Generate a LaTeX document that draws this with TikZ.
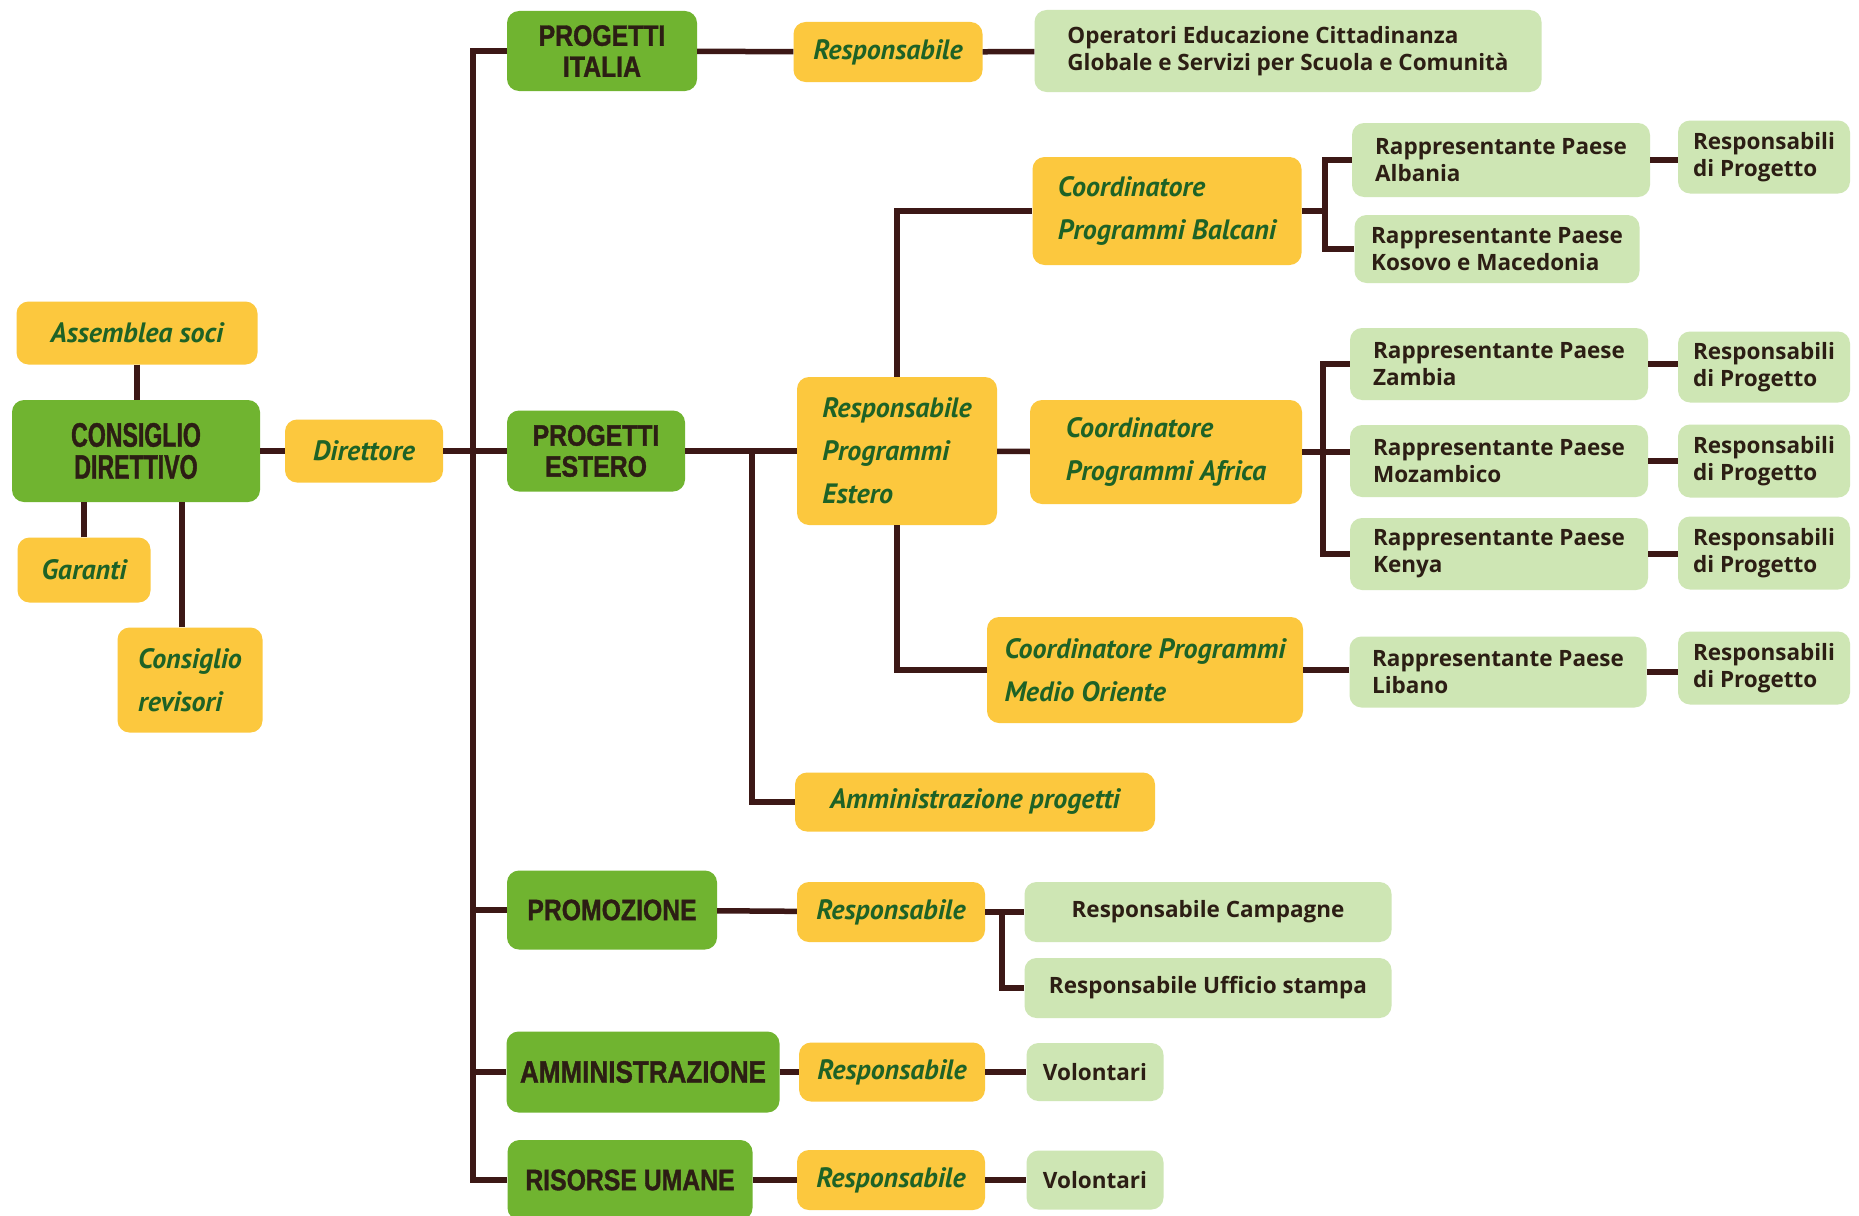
\documentclass[tikz,border=0pt]{standalone}
\usepackage{fontspec}
\newfontfamily\headfont[FakeStretch=0.84,FakeBold=1.2]{Liberation Sans}
\newfontfamily\cdfont[FakeStretch=0.68,FakeBold=1.2]{Liberation Sans}
\newfontfamily\handfont{PT Sans}
\newfontfamily\plainfont{Open Sans}
\definecolor{grass}{RGB}{112,180,48}
\definecolor{sun}{RGB}{252,200,62}
\definecolor{mint}{RGB}{206,230,180}
\definecolor{wire}{RGB}{60,24,22}
\definecolor{ink}{RGB}{44,30,20}
\definecolor{leaf}{RGB}{30,98,38}
\tikzset{
  head/.style={fill=grass, rounded corners=12pt, align=center, text=ink,
    font=\headfont\bfseries\fontsize{29.5}{31}\selectfont},
  role/.style={fill=sun, rounded corners=12pt, align=left, text=leaf,
    font=\handfont\bfseries\itshape\fontsize{28}{43}\selectfont},
  unit/.style={fill=mint, rounded corners=12pt, align=left, text=ink,
    font=\plainfont\bfseries\fontsize{22.5}{27}\selectfont},
  link/.style={draw=wire, line width=5.5pt},
}
\begin{document}
\begin{tikzpicture}[x=1pt,y=-1pt]
  % canvas
  \fill[white] (0,0) rectangle (1859,1215);
  \useasboundingbox (0,0) rectangle (1859,1215);
  % governing bodies
  \node[role, align=center, minimum width=241pt, minimum height=63pt] (ass) at (137,333) {Assemblea soci};
  \node[head, font=\cdfont\bfseries\fontsize{34}{32}\selectfont,
        minimum width=248pt, minimum height=102pt] (cd) at (136,451) {CONSIGLIO\\DIRETTIVO};
  \node[role, align=center, minimum width=158pt, minimum height=63pt] (dir) at (364,451) {Direttore};
  \node[role, align=center, minimum width=133pt, minimum height=65pt] (gar) at (84,570) {Garanti};
  \node[role, minimum width=145pt, minimum height=105pt] (rev) at (190,680) {Consiglio\\revisori};
  % areas
  \node[head, minimum width=190pt, minimum height=80pt] (ita) at (602,51) {PROGETTI\\ITALIA};
  \node[head, minimum width=178pt, minimum height=81pt] (est) at (596,451) {PROGETTI\\ESTERO};
  \node[head, minimum width=210pt, minimum height=79pt] (pro) at (612,910) {PROMOZIONE};
  \node[head, font=\headfont\bfseries\fontsize{31}{31}\selectfont,
        minimum width=273pt, minimum height=81pt] (amm) at (643,1072) {AMMINISTRAZIONE};
  \node[head, minimum width=245pt, minimum height=80pt] (ru) at (630,1180) {RISORSE UMANE};
  % progetti italia
  \node[role, align=center, minimum width=189pt, minimum height=60pt] (rita) at (888,52) {Responsabile};
  \node[unit, minimum width=507pt, minimum height=82pt] (oper) at (1288,51)
    {Operatori Educazione Cittadinanza\\Globale e Servizi per Scuola e Comunità};
  % progetti estero
  \node[role, minimum width=200pt, minimum height=148pt] (rpe) at (897,451) {Responsabile\\Programmi\\Estero};
  \node[role, minimum width=269pt, minimum height=108pt] (balc) at (1167,211) {Coordinatore\\Programmi Balcani};
  \node[role, minimum width=272pt, minimum height=104pt] (afr) at (1166,452) {Coordinatore\\Programmi Africa};
  \node[role, minimum width=316pt, minimum height=106pt] (mo) at (1145,670) {Coordinatore Programmi\\Medio Oriente};
  \node[role, minimum width=360pt, minimum height=59pt] (ammp) at (975,802) {Amministrazione progetti};
  % country offices
  \node[unit, minimum width=298pt, minimum height=74pt] (alb) at (1501,160) {Rappresentante Paese\\Albania};
  \node[unit, minimum width=285pt, minimum height=68pt] (kos) at (1497,249) {Rappresentante Paese\\Kosovo e Macedonia};
  \node[unit, minimum width=298pt, minimum height=72pt] (zam) at (1499,364) {Rappresentante Paese\\Zambia};
  \node[unit, minimum width=298pt, minimum height=72pt] (moz) at (1499,461) {Rappresentante Paese\\Mozambico};
  \node[unit, minimum width=298pt, minimum height=72pt] (ken) at (1499,554) {Rappresentante Paese\\Kenya};
  \node[unit, minimum width=297pt, minimum height=71pt] (lib) at (1498,672) {Rappresentante Paese\\Libano};
  \node[unit, minimum width=172pt, minimum height=73pt] (rpalb) at (1764,157) {Responsabili\\di Progetto};
  \node[unit, minimum width=172pt, minimum height=71pt] (rpzam) at (1764,367) {Responsabili\\di Progetto};
  \node[unit, minimum width=172pt, minimum height=73pt] (rpmoz) at (1764,461) {Responsabili\\di Progetto};
  \node[unit, minimum width=172pt, minimum height=73pt] (rpken) at (1764,553) {Responsabili\\di Progetto};
  \node[unit, minimum width=172pt, minimum height=73pt] (rplib) at (1764,668) {Responsabili\\di Progetto};
  % promozione, amministrazione, risorse umane
  \node[role, align=center, minimum width=188pt, minimum height=60pt] (rpro) at (891,912) {Responsabile};
  \node[unit, minimum width=367pt, minimum height=60pt] (camp) at (1208,912) {Responsabile Campagne};
  \node[unit, minimum width=367pt, minimum height=60pt] (uff) at (1208,988) {Responsabile Ufficio stampa};
  \node[role, align=center, minimum width=186pt, minimum height=59pt] (ramm) at (892,1072) {Responsabile};
  \node[unit, minimum width=137pt, minimum height=58pt] (vamm) at (1095,1072) {Volontari};
  \node[role, align=center, minimum width=188pt, minimum height=60pt] (rru) at (891,1180) {Responsabile};
  \node[unit, minimum width=137pt, minimum height=59pt] (vru) at (1095,1180) {Volontari};
  % branch points
  \coordinate (tbot) at (473,1180);
  \coordinate (best) at (752,451);
  \coordinate (bbal) at (1325,211);
  \coordinate (bafr) at (1323,452);
  \coordinate (bpro) at (1002,912);
  % left block
  \draw[link] (ass.south) -- (ass.south |- cd.north);
  \draw[link] (gar.north) -- (gar.north |- cd.south);
  \draw[link] ([xshift=-8pt]rev.north) -- ([xshift=-8pt]rev.north |- cd.south);
  \draw[link] (cd) -- (dir);
  % trunk
  \draw[link] (ita.west) -| (tbot) -- (ru.west);
  \draw[link] (dir) -- (est);
  \draw[link] (pro.west) -- (pro.west -| tbot);
  \draw[link] (amm.west) -- (amm.west -| tbot);
  % rows
  \draw[link] (ita) -- (rita);
  \draw[link] (rita) -- (oper);
  \draw[link] (est) -- (rpe);
  \draw[link] (best) |- (ammp.west);
  \draw[link] (rpe.north) |- (balc.west);
  \draw[link] (rpe) -- (afr);
  \draw[link] (rpe.south) |- (mo.west);
  \draw[link] (balc.east) -- (bbal);
  \draw[link] (alb.west) -| (bbal) |- (kos.west);
  \draw[link] (afr.east) -- (afr.east -| moz.west);
  \draw[link] (zam.west) -| (bafr) |- (ken.west);
  \draw[link] (mo.east) -- (mo.east -| lib.west);
  \draw[link] (alb.east) -- (alb.east -| rpalb.west);
  \draw[link] (zam.east) -- (zam.east -| rpzam.west);
  \draw[link] (moz.east) -- (moz.east -| rpmoz.west);
  \draw[link] (ken.east) -- (ken.east -| rpken.west);
  \draw[link] (lib.east) -- (lib.east -| rplib.west);
  \draw[link] (pro) -- (rpro);
  \draw[link] (rpro) -- (camp);
  \draw[link] (bpro) |- (uff.west);
  \draw[link] (amm) -- (ramm);
  \draw[link] (ramm) -- (vamm);
  \draw[link] (ru) -- (rru);
  \draw[link] (rru) -- (vru);
\end{tikzpicture}
\end{document}
